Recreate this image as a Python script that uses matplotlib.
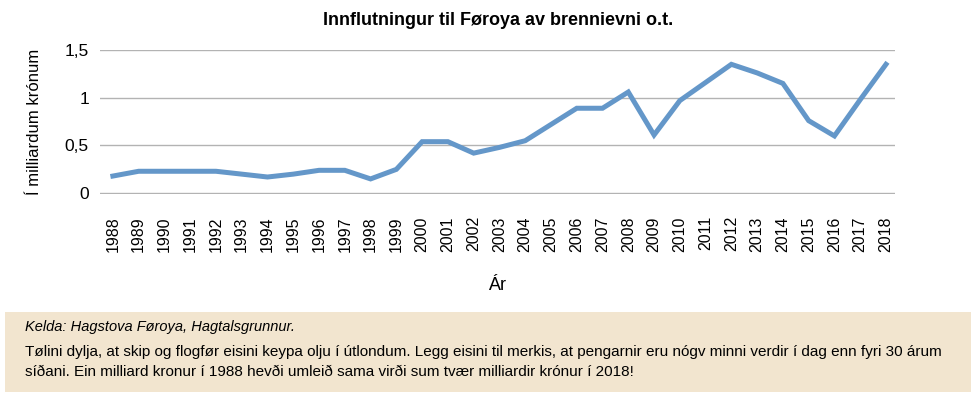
import matplotlib.pyplot as plt
from matplotlib.patches import Rectangle

years = [str(y) for y in range(1988, 2019)]
values = [0.18, 0.23, 0.23, 0.23, 0.23, 0.20, 0.17, 0.20, 0.24, 0.24,
          0.15, 0.25, 0.54, 0.54, 0.42, 0.48, 0.55, 0.72, 0.89, 0.89,
          1.06, 0.61, 0.97, 1.16, 1.35, 1.26, 1.15, 0.76, 0.60, 0.98, 1.35]
ytick_vals = [0, 0.5, 1, 1.5]
ytick_labels = ["0", "0,5", "1", "1,5"]

plt.rcParams['font.family'] = ["Liberation Sans", "DejaVu Sans"]

fig = plt.figure(figsize=(9.76, 3.94), dpi=100)
ax = fig.add_axes([100 / 976, 1 - 194 / 394, 795 / 976, 144 / 394])

x = list(range(len(years)))
ax.plot(x, values, color="#6497c9", linewidth=3.6, solid_joinstyle="miter", clip_on=False)

ax.set_xlim(-0.5, len(years) - 1 + 0.35)
ax.set_ylim(-0.008, 1.5)
ax.set_yticks(ytick_vals)
ax.set_yticklabels(ytick_labels, fontsize=12.5)
ax.set_xticks(x)
ax.set_xticklabels(years, rotation=90, fontsize=11.5)
ax.tick_params(length=0)
ax.tick_params(axis="y", pad=8)
ax.tick_params(axis="x", pad=16)
ax.grid(axis="y", color="#b3b3b3", linewidth=1)
ax.set_axisbelow(True)
for s in ax.spines.values():
    s.set_visible(False)

ax.set_ylabel("Í milliardum krónum", fontsize=12, labelpad=16)
ax.set_xlabel("Ár", fontsize=13, labelpad=18)
fig.text(0.51, 0.948, "Innflutningur til Føroya av brennievni o.t.",
         fontsize=13, fontweight="bold", ha="center", va="center")

# note box at the bottom
fig.patches.append(Rectangle((5 / 976, 2 / 394), 966 / 976, 80 / 394,
                             transform=fig.transFigure, facecolor="#f2e5cf",
                             edgecolor="none"))
fig.text(25 / 976, 1 - 327 / 394, "Kelda: Hagstova Føroya, Hagtalsgrunnur.",
         fontsize=10.5, style="italic", va="center")
fig.text(25 / 976, 1 - 352 / 394,
         "Tølini dylja, at skip og flogfør eisini keypa olju í útlondum. Legg eisini til merkis, "
         "at pengarnir eru nógv minni verdir í dag enn fyri 30 árum",
         fontsize=11, va="center")
fig.text(25 / 976, 1 - 372 / 394,
         "síðani. Ein milliard kronur í 1988 hevði umleið sama virði sum tvær milliardir krónur í 2018!",
         fontsize=11, va="center")

fig.savefig("out.png", dpi=100)
